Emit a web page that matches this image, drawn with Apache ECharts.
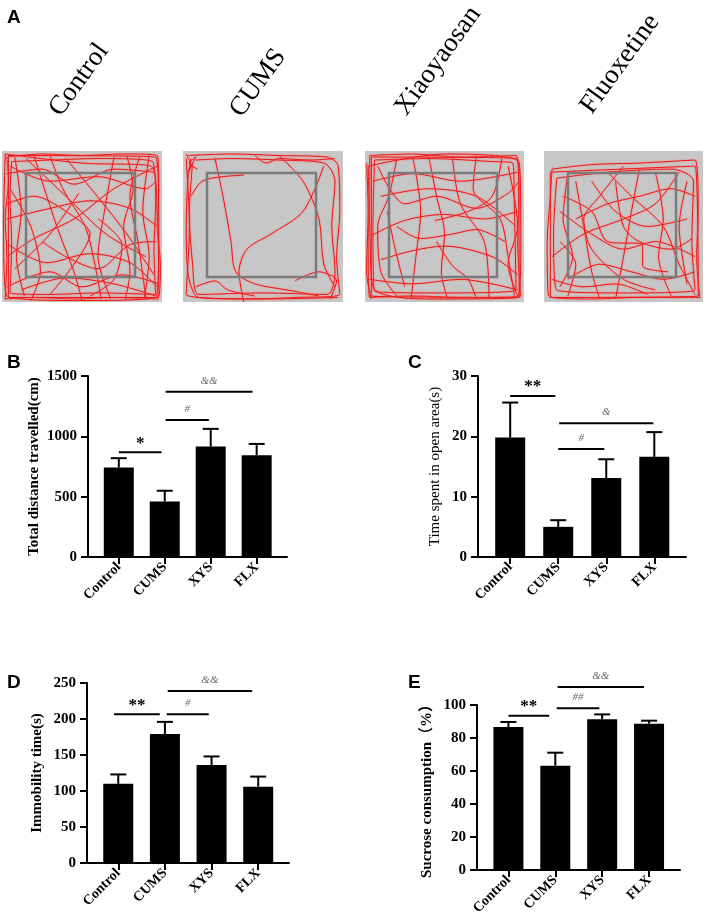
<!DOCTYPE html>
<html>
<head>
    <meta charset="utf-8">
    <title>Open field, FST and sucrose preference</title>
    <script src="https://cdn.jsdelivr.net/npm/echarts@6/dist/echarts.min.js"></script>
    <style>
        body { margin: 0; background: #fff; }
        #main { width: 706px; height: 918px; }
    </style>
</head>
<body>
<div id="main"></div>
<script>
    // group names
    var arenaNames = ['Control', 'CUMS', 'Xiaoyaosan', 'Fluoxetine'];
    var groups = ['Control', 'CUMS', 'XYS', 'FLX'];

    // open field tracks, arena coords 0-100 (y down)
    var trackControl = [
        [[3,4],[25,2],[50,3],[75,2],[97,3],[98,25],[97,50],[99,75],[97,98],[70,97],[45,98],[20,97],[2,98],[3,70],[2,45],[4,20],[3,4]],
        [[6,7],[30,6],[60,5],[94,7],[96,35],[95,65],[96,95],[60,94],[30,95],[5,94],[6,60],[5,30],[6,7]],
        [[2,2],[50,8],[93,10],[97,40],[98,96],[50,99],[3,96],[1,50],[2,2]],
        [[4,3],[96,4],[98,50],[96,97],[4,97],[4,50],[4,3]],
        [[5,10],[30,20],[60,17],[90,25],[96,20]],
        [[3,45],[30,38],[55,33],[80,38],[97,50]],
        [[20,3],[28,30],[36,55],[45,80],[50,99]],
        [[70,4],[64,40],[60,70],[68,98]],
        [[40,5],[58,28],[78,55],[95,82]],
        [[4,62],[28,74],[55,68],[80,74],[97,90]],
        [[12,92],[40,84],[70,88],[96,96]],
        [[5,25],[18,50],[24,80],[18,99]],
        [[86,4],[80,30],[85,60],[90,98]],
        [[48,28],[30,55],[8,78]],
        [[3,15],[25,12],[45,22],[70,12],[95,14]],
        [[60,45],[75,62],[70,85],[55,96]],
        [[8,4],[12,40],[9,70],[14,96]],
        [[92,3],[88,40],[92,70],[89,97]],
        [[3,90],[30,80],[50,90],[75,82],[98,88]],
        [[15,5],[40,30],[65,55],[90,70]],
        [[97,10],[70,25],[45,45],[20,58],[3,70]],
        [[30,3],[38,25],[52,50],[58,75],[62,98]],
        [[78,3],[82,25],[76,50],[80,80],[77,98]],
        [[25,60],[40,70],[60,78],[80,62],[96,60]],
        [[3,35],[20,30],[40,40],[55,55],[45,75],[30,95]]
    ];
    var trackCums = [
        [[3,3],[30,2],[60,3],[90,4],[97,10],[98,40],[96,70],[98,95],[70,97],[40,98],[10,97],[3,80],[2,50],[3,20],[5,5]],
        [[6,8],[4,40],[6,75],[10,95],[50,94],[90,95],[95,80],[93,50],[95,20],[88,8],[60,6],[30,5],[8,6]],
        [[2,2],[5,10],[3,14],[8,4],[4,8],[9,12]],
        [[2,5],[4,50],[2,95],[50,98],[97,97]],
        [[45,3],[52,8],[60,5],[80,6],[95,5]],
        [[20,5],[25,30],[30,60],[33,80],[45,88],[65,92],[85,96]],
        [[88,10],[75,40],[55,55],[40,65],[35,80],[38,100]],
        [[60,3],[75,20],[85,45],[88,75],[95,90]],
        [[5,30],[12,20],[25,17],[38,16]],
        [[70,86],[85,80],[96,86],[92,98]],
        [[8,90],[20,86],[28,92],[45,96]]
    ];
    var trackXys = [
        [[3,3],[30,2],[60,4],[95,3],[97,30],[96,60],[98,96],[60,97],[30,96],[3,97],[2,60],[3,30],[3,3]],
        [[6,6],[40,5],[80,7],[93,8],[94,40],[95,92],[50,94],[6,93],[5,50],[6,6]],
        [[4,4],[96,5],[97,97],[4,96],[4,4]],
        [[2,10],[3,50],[5,90],[40,98],[96,97],[98,60],[97,8],[50,2],[2,10]],
        [[1,8],[2,40],[1,80],[4,98]],
        [[5,20],[30,15],[60,20],[96,14]],
        [[4,56],[25,46],[50,42],[75,45],[96,40]],
        [[10,72],[30,66],[50,63],[80,70],[96,82]],
        [[30,4],[35,40],[32,70],[29,98]],
        [[55,4],[60,35],[75,60],[78,98]],
        [[86,5],[80,30],[65,40],[44,46]],
        [[14,40],[19,65],[25,90]],
        [[45,60],[55,76],[65,85],[70,98]],
        [[10,30],[40,25],[70,30],[95,50]],
        [[20,5],[15,30],[8,50],[10,80],[20,96]],
        [[40,3],[45,30],[50,55],[48,80],[52,98]],
        [[70,3],[68,25],[85,45],[90,70],[94,96]],
        [[3,85],[30,88],[60,85],[96,92]],
        [[8,10],[25,35],[45,30],[70,38],[90,28],[97,20]],
        [[20,50],[35,58],[55,55],[70,52],[88,60]],
        [[90,10],[96,50],[90,75],[96,96]]
    ];
    var trackFlx = [
        [[5,12],[30,9],[60,8],[95,6],[97,40],[96,70],[98,97],[60,97],[30,98],[3,96],[2,60],[4,30],[5,12]],
        [[8,18],[40,14],[80,12],[94,20],[93,60],[95,92],[50,94],[8,92],[6,55],[8,18]],
        [[4,14],[95,10],[97,96],[4,97],[4,14]],
        [[10,40],[30,55],[50,65],[70,60],[95,70]],
        [[20,20],[25,50],[30,80],[35,98]],
        [[60,12],[55,40],[50,70],[45,98]],
        [[85,14],[70,35],[50,45],[25,55],[5,70]],
        [[40,14],[55,30],[75,50],[85,75],[95,95]],
        [[15,85],[35,75],[55,80],[75,85],[95,80]],
        [[30,20],[45,40],[65,50],[90,45]],
        [[10,60],[20,75],[15,96]],
        [[70,14],[75,45],[72,70],[80,96]],
        [[12,30],[30,40],[40,60],[62,62],[62,76],[78,80]],
        [[50,10],[35,30],[25,45],[30,65],[50,85],[70,92]],
        [[20,45],[40,35],[60,30],[80,25],[95,30]],
        [[5,85],[25,90],[45,88],[65,95]],
        [[45,20],[50,50],[60,60],[80,65],[93,58]],
        [[90,20],[85,50],[90,88]],
        [[15,15],[12,45],[18,70],[10,90]]
    ];

    // B: total distance
    var distMean = [742, 460, 915, 844];
    var distSem = [77, 89, 147, 93];
    var distSig = [[0, 0.93, 868], [1.02, 1.96, 1136], [1.02, 2.91, 1370]];
    var distSigText = ['*', '#', '&&'];
    // C: time in open area
    var openMean = [19.8, 5.0, 13.1, 16.6];
    var openSem = [5.8, 1.1, 3.1, 4.1];
    var openSig = [[0, 0.94, 26.7], [1.02, 2.98, 22.15], [1.0, 1.96, 17.9]];
    var openSigText = ['**', '&', '#'];
    // D: immobility
    var immobMean = [110, 179, 136, 106];
    var immobSem = [13, 17, 12, 14];
    var immobSig = [[-0.09, 0.89, 206.6], [1.04, 1.94, 206.6], [1.06, 2.87, 239]];
    var immobSigText = ['**', '#', '&&'];
    // E: sucrose
    var sucMean = [86.6, 63.2, 91.3, 88.7];
    var sucSem = [3.1, 7.9, 3.0, 1.8];
    var sucSig = [[0, 0.87, 93.5], [1.03, 1.94, 98.0], [1.05, 2.89, 110.9]];
    var sucSigText = ['**', '##', '&&'];

    var serif = 'Liberation Serif, Times New Roman, serif';
    var chart = echarts.init(document.getElementById('main'));

    var arenaBox = [
        {left: 2, width: 160},
        {left: 183, width: 160},
        {left: 365, width: 159},
        {left: 544, width: 159}
    ];
    var arenaTop = 151, arenaH = 151;
    var tracks = [trackControl, trackCums, trackXys, trackFlx];
    var labelPos = [[79, 80], [258, 83], [438, 61], [620, 64]];

    var grids = [], xAxes = [], yAxes = [], series = [], graphics = [];

    arenaBox.forEach(function (b, i) {
        grids.push({left: b.left, top: arenaTop, width: b.width, height: arenaH,
            show: true, backgroundColor: '#c7c7c7', borderWidth: 0});
        xAxes.push({gridIndex: i, type: 'value', min: 0, max: 100, show: false});
        yAxes.push({gridIndex: i, type: 'value', min: 0, max: 100, inverse: true, show: false});
        tracks[i].forEach(function (path) {
            series.push({
                type: 'line', xAxisIndex: i, yAxisIndex: i, data: path,
                showSymbol: false, silent: true, smooth: 0.3,
                lineStyle: {color: '#ee1111', width: 1, shadowColor: 'rgba(255,120,120,0.9)', shadowBlur: 2}
            });
        });
        graphics.push({
            type: 'rect', z: 10,
            shape: {x: b.left + 24, y: arenaTop + 22, width: b.width - 51, height: arenaH - 47},
            style: {fill: 'none', stroke: '#7b7b7b', lineWidth: 2.5}
        });
        graphics.push({
            type: 'text', x: labelPos[i][0], y: labelPos[i][1], rotation: 54 * Math.PI / 180,
            style: {text: arenaNames[i], font: '27px ' + serif, fill: '#000',
                textAlign: 'center', textVerticalAlign: 'middle'}
        });
    });

    var panels = [
        {grid: {left: 88, top: 376, width: 199, height: 181}, max: 1500, interval: 500,
            name: 'Total distance travelled(cm)', nameGap: 46, nameWeight: 'bold',
            mean: distMean, sem: distSem, sig: distSig, sigText: distSigText},
        {grid: {left: 478, top: 376, width: 208, height: 181}, max: 30, interval: 10,
            name: 'Time spent in open area(s)', nameGap: 35, nameWeight: 'normal',
            mean: openMean, sem: openSem, sig: openSig, sigText: openSigText},
        {grid: {left: 87, top: 683, width: 202, height: 180}, max: 250, interval: 50,
            name: 'Immobility time(s)', nameGap: 42, nameWeight: 'bold',
            mean: immobMean, sem: immobSem, sig: immobSig, sigText: immobSigText},
        {grid: {left: 477, top: 705, width: 203, height: 165}, max: 100, interval: 20,
            name: 'Sucrose consumption\uff08%\uff09', nameGap: 42, nameWeight: 'bold',
            mean: sucMean, sem: sucSem, sig: sucSig, sigText: sucSigText}
    ];

    panels.forEach(function (p, k) {
        var gi = 4 + k;
        grids.push(p.grid);
        xAxes.push({
            gridIndex: gi, type: 'value', min: -0.67, max: 3.66,
            splitLine: {show: false},
            axisLine: {show: true, lineStyle: {color: '#000', width: 2}},
            axisTick: {show: true, length: 7, customValues: [0, 1, 2, 3], lineStyle: {color: '#000', width: 2}},
            axisLabel: {
                customValues: [0, 1, 2, 3], rotate: 45, margin: 8,
                formatter: function (v) { return groups[Math.round(v)]; },
                fontFamily: serif, fontWeight: 'bold', fontSize: 14, color: '#000'
            }
        });
        yAxes.push({
            gridIndex: gi, type: 'value', min: 0, max: p.max, interval: p.interval,
            splitLine: {show: false},
            axisLine: {show: true, onZero: false, lineStyle: {color: '#000', width: 2}},
            axisTick: {show: true, length: 7, lineStyle: {color: '#000', width: 2}},
            axisLabel: {fontFamily: serif, fontWeight: 'bold', fontSize: 15, color: '#000', margin: 11,
                formatter: function (v) { return String(v); }},
            name: p.name, nameLocation: 'middle', nameGap: p.nameGap,
            nameTextStyle: {fontFamily: serif + ', Noto Sans CJK SC', fontWeight: p.nameWeight, fontSize: 15, color: '#000'}
        });
        series.push({
            type: 'bar', xAxisIndex: gi, yAxisIndex: gi, barWidth: 30,
            itemStyle: {color: '#000'},
            data: p.mean.map(function (m, i) { return [i, m]; })
        });
        series.push({
            type: 'custom', xAxisIndex: gi, yAxisIndex: gi, clip: false,
            encode: {x: 0, y: 1},
            data: p.mean.map(function (m, i) { return [i, m, p.sem[i]]; }),
            renderItem: function (params, api) {
                var x = api.value(0), m = api.value(1), s = api.value(2);
                var a = api.coord([x, m]), b = api.coord([x, m + s]);
                return {type: 'group', children: [
                    {type: 'line', shape: {x1: a[0], y1: a[1], x2: b[0], y2: b[1]}, style: {stroke: '#000', lineWidth: 2}},
                    {type: 'line', shape: {x1: b[0] - 8, y1: b[1], x2: b[0] + 8, y2: b[1]}, style: {stroke: '#000', lineWidth: 2}}
                ]};
            }
        });
        series.push({
            type: 'custom', xAxisIndex: gi, yAxisIndex: gi, clip: false,
            encode: {x: [0, 1], y: 2},
            data: p.sig,
            renderItem: function (params, api) {
                var a = api.coord([api.value(0), api.value(2)]);
                var b = api.coord([api.value(1), api.value(2)]);
                var t = p.sigText[params.dataIndex];
                var star = t.indexOf('*') >= 0;
                return {type: 'group', children: [
                    {type: 'line', shape: {x1: a[0], y1: a[1], x2: b[0], y2: b[1]}, style: {stroke: '#000', lineWidth: 2}},
                    {type: 'text', x: (a[0] + b[0]) / 2, y: a[1] - (star ? 9 : 11),
                        style: {text: t, textAlign: 'center', textVerticalAlign: 'middle',
                            font: star ? 'bold 17px ' + serif : 'italic 11px ' + serif,
                            fill: star ? '#000' : '#666'}}
                ]};
            }
        });
    });

    var letters = [['A', 7, 8], ['B', 7, 353], ['C', 408, 353], ['D', 7, 673], ['E', 408, 673]];
    letters.forEach(function (l) {
        graphics.push({type: 'text', x: l[1], y: l[2],
            style: {text: l[0], font: 'bold 19px Liberation Sans, Arial, sans-serif', fill: '#000'}});
    });

    chart.setOption({
        animation: false,
        backgroundColor: '#fff',
        grid: grids,
        xAxis: xAxes,
        yAxis: yAxes,
        series: series,
        graphic: graphics
    });
</script>
</body>
</html>
